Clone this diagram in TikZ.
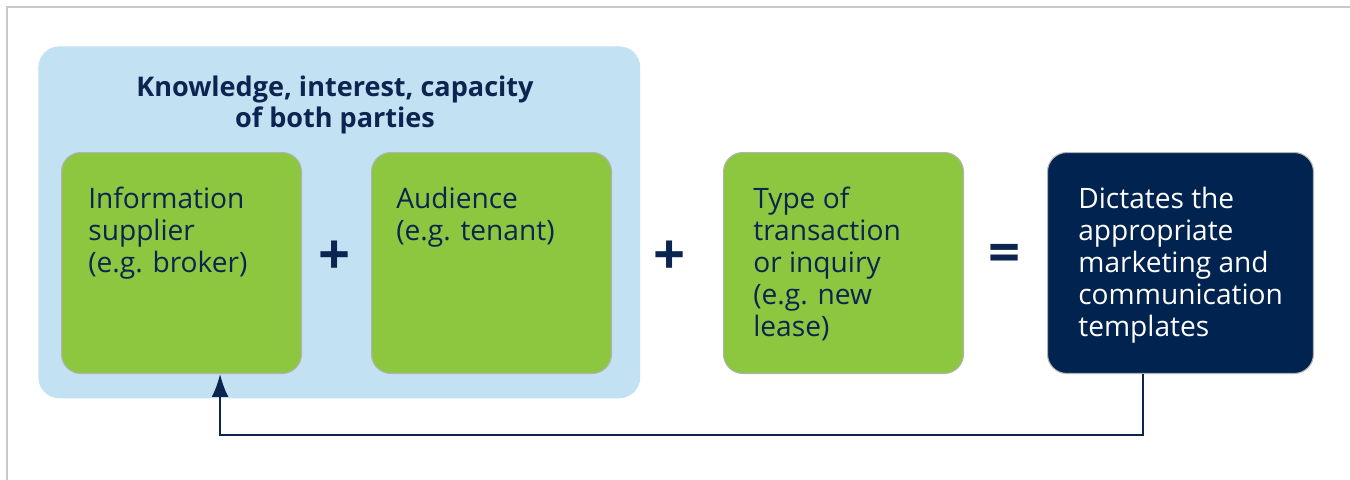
\documentclass[tikz,border=0pt]{standalone}
\usepackage{fontspec}
\setmainfont{Open Sans}
\usepackage{tikz}
\usetikzlibrary{arrows.meta,calc}
\definecolor{navy}{HTML}{0B2550}
\definecolor{navybox}{HTML}{00234F}
\definecolor{leaf}{HTML}{8DC63F}
\definecolor{sky}{HTML}{C2E1F3}
\definecolor{rule}{HTML}{C8C8C8}

\begin{document}
\begin{tikzpicture}[x=0.02cm,y=-0.02cm,>={Latex[length=13pt,width=9.5pt]}]
\tikzset{
	card/.style={draw=black!30,line width=0.6pt,rounded corners=11pt,
		minimum width=4.8cm,minimum height=4.42cm,anchor=north west,inner sep=0pt},
	greencard/.style={card,fill=leaf},
	cardtext/.style={anchor=north west,align=left,inner sep=0pt,text=navy,
		font=\fontsize{16}{18.2}\selectfont},
	sign/.style={text=navy,font=\fontsize{32}{32}\bfseries\selectfont,inner sep=0pt}
}
\useasboundingbox (0,0) rectangle (1350,480);
\draw[rule,line width=1.1pt] (7,480) -- (7,7) -- (1350,7);

% shared context of both parties
\node[fill=sky,rounded corners=12pt,minimum width=12.04cm,minimum height=7.04cm,
	anchor=north west,inner sep=0pt] (ctx) at (38,46) {};
\node[anchor=base,align=center,text=navy,inner sep=0pt,
	font=\fontsize{15.4}{17.1}\bfseries\selectfont] (ctxtitle) at (335,127)
	{Knowledge, interest, capacity\\of both parties};

\node[greencard] (supplier) at (61,152) {};
\node[greencard] (audience) at (371,152) {};
\node[greencard] (deal) at (723,152) {};
\node[card,fill=navybox,minimum width=5.32cm] (result) at (1047,152) {};

% text hangs from a strut, so the first baseline sits 56px below the card top
\node[cardtext] (suppliertxt) at ([shift={(27,33.6)}]supplier.north west)
	{\strut Information\\supplier\\(e.g. broker)};
\node[cardtext] (audiencetxt) at ([shift={(25,33.6)}]audience.north west)
	{\strut Audience\\(e.g. tenant)};
\node[cardtext] (dealtxt) at ([shift={(30,33.6)}]deal.north west)
	{\strut Type of\\transaction\\or inquiry\\(e.g. new\\lease)};
\node[cardtext,text=white] (resulttxt) at ([shift={(31,33.6)}]result.north west)
	{\strut Dictates the\\appropriate\\marketing and\\communication\\templates};

\node[sign] (plusa) at (335,258) {+};
\node[sign] (plusb) at (670,258) {+};
\node[sign] (equals) at (1005,258) {=};

% feedback loop back to the supplier
\draw[->,navy,line width=1.1pt] ($(result.south west)!.36!(result.south east)$)
	-- ++(0,61) -| ($(supplier.south west)!.66!(supplier.south east)$);
\end{tikzpicture}
\end{document}
